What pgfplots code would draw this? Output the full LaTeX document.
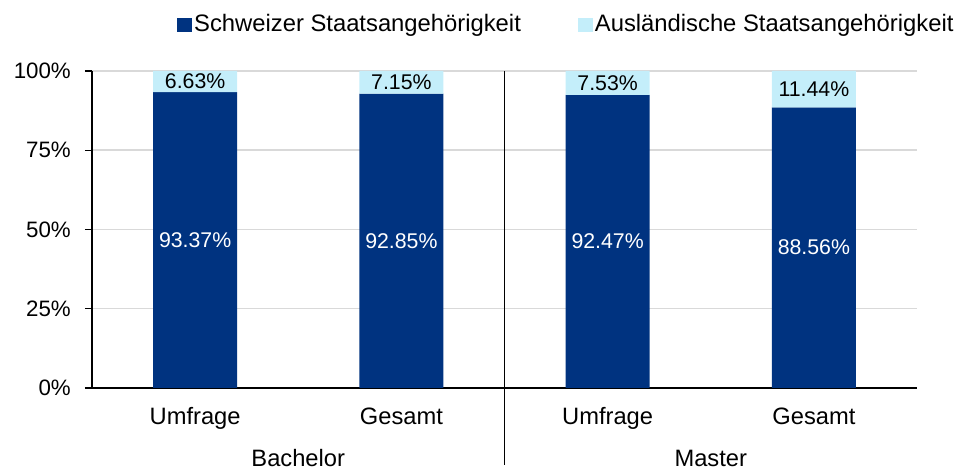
\documentclass[border=0pt]{standalone}
\usepackage{fontspec}
\setmainfont{Liberation Sans}
\usepackage{pgfplots}
\pgfplotsset{compat=1.18}
\definecolor{dblue}{RGB}{0,51,128}
\definecolor{lblue}{RGB}{196,238,250}
\begin{document}
\fontsize{22}{26}\selectfont
\begin{tikzpicture}[x=1pt,y=1pt]
\useasboundingbox (-92,-82) rectangle (869,388);
\begin{axis}[
  at={(0,0)}, anchor=south west,
  scale only axis, width=825pt, height=317pt,
  ybar stacked, reverse stacked plots=false, bar width=84pt,
  xmin=-0.5, xmax=3.5, ymin=0, ymax=100,
  xtick={0,1,2,3}, xticklabels={Umfrage,Gesamt,Umfrage,Gesamt},
  ytick={0,25,50,75,100}, yticklabels={0\%,25\%,50\%,75\%,100\%},
  axis x line*=bottom, axis y line*=left,
  axis line style={black, line width=1.3pt},
  xtick style={draw=none},
  ytick style={black, line width=1.3pt},
  tick align=outside, major tick length=7pt,
  ymajorgrids, grid style={black!15, line width=1.5pt},
  xticklabel style={anchor=base, yshift=-30pt, inner sep=0pt, font=\fontsize{23.7}{27}\selectfont},
  yticklabel style={anchor=east, inner sep=0pt, xshift=-14pt, font=\fontsize{22.3}{26}\selectfont},
  clip=false,
  legend columns=2,
  legend style={at={(0.103,1.146)}, anchor=west, draw=none, fill=none,
    font=\fontsize{23.8}{27}\selectfont,
    nodes={inner sep=0pt},
    /tikz/every odd column/.append style={column sep=2pt},
    /tikz/every even column/.append style={column sep=57pt},
    inner sep=0pt},
  legend image code/.code={\fill[#1] (0pt,-7pt) rectangle (15pt,7pt);},
]
\addplot[fill=dblue, draw=none] coordinates {(0,93.37) (1,92.85) (2,92.47) (3,88.56)};
\addplot[fill=lblue, draw=none] coordinates {(0,6.63) (1,7.15) (2,7.53) (3,11.44)};
\legend{Schweizer Staatsangehörigkeit, Ausländische Staatsangehörigkeit}
\tikzset{lab/.style={font=\fontsize{21.3}{25}\selectfont}}
\node[lab, white] at (axis cs:0,46.7) {93.37\%};
\node[lab, white] at (axis cs:1,46.4) {92.85\%};
\node[lab, white] at (axis cs:2,46.2) {92.47\%};
\node[lab, white] at (axis cs:3,44.3) {88.56\%};
\node[lab] at (axis cs:0,96.7) {6.63\%};
\node[lab] at (axis cs:1,96.4) {7.15\%};
\node[lab] at (axis cs:2,96.2) {7.53\%};
\node[lab] at (axis cs:3,94.3) {11.44\%};
\draw[black, line width=1.3pt] (axis cs:1.5,100) -- (axis cs:1.5,-24.4);
\node[anchor=base, font=\fontsize{23.7}{27}\selectfont] at (axis cs:0.5,-24.8) {Bachelor};
\node[anchor=base, font=\fontsize{23.7}{27}\selectfont] at (axis cs:2.5,-24.8) {Master};
\end{axis}
\end{tikzpicture}
\end{document}
